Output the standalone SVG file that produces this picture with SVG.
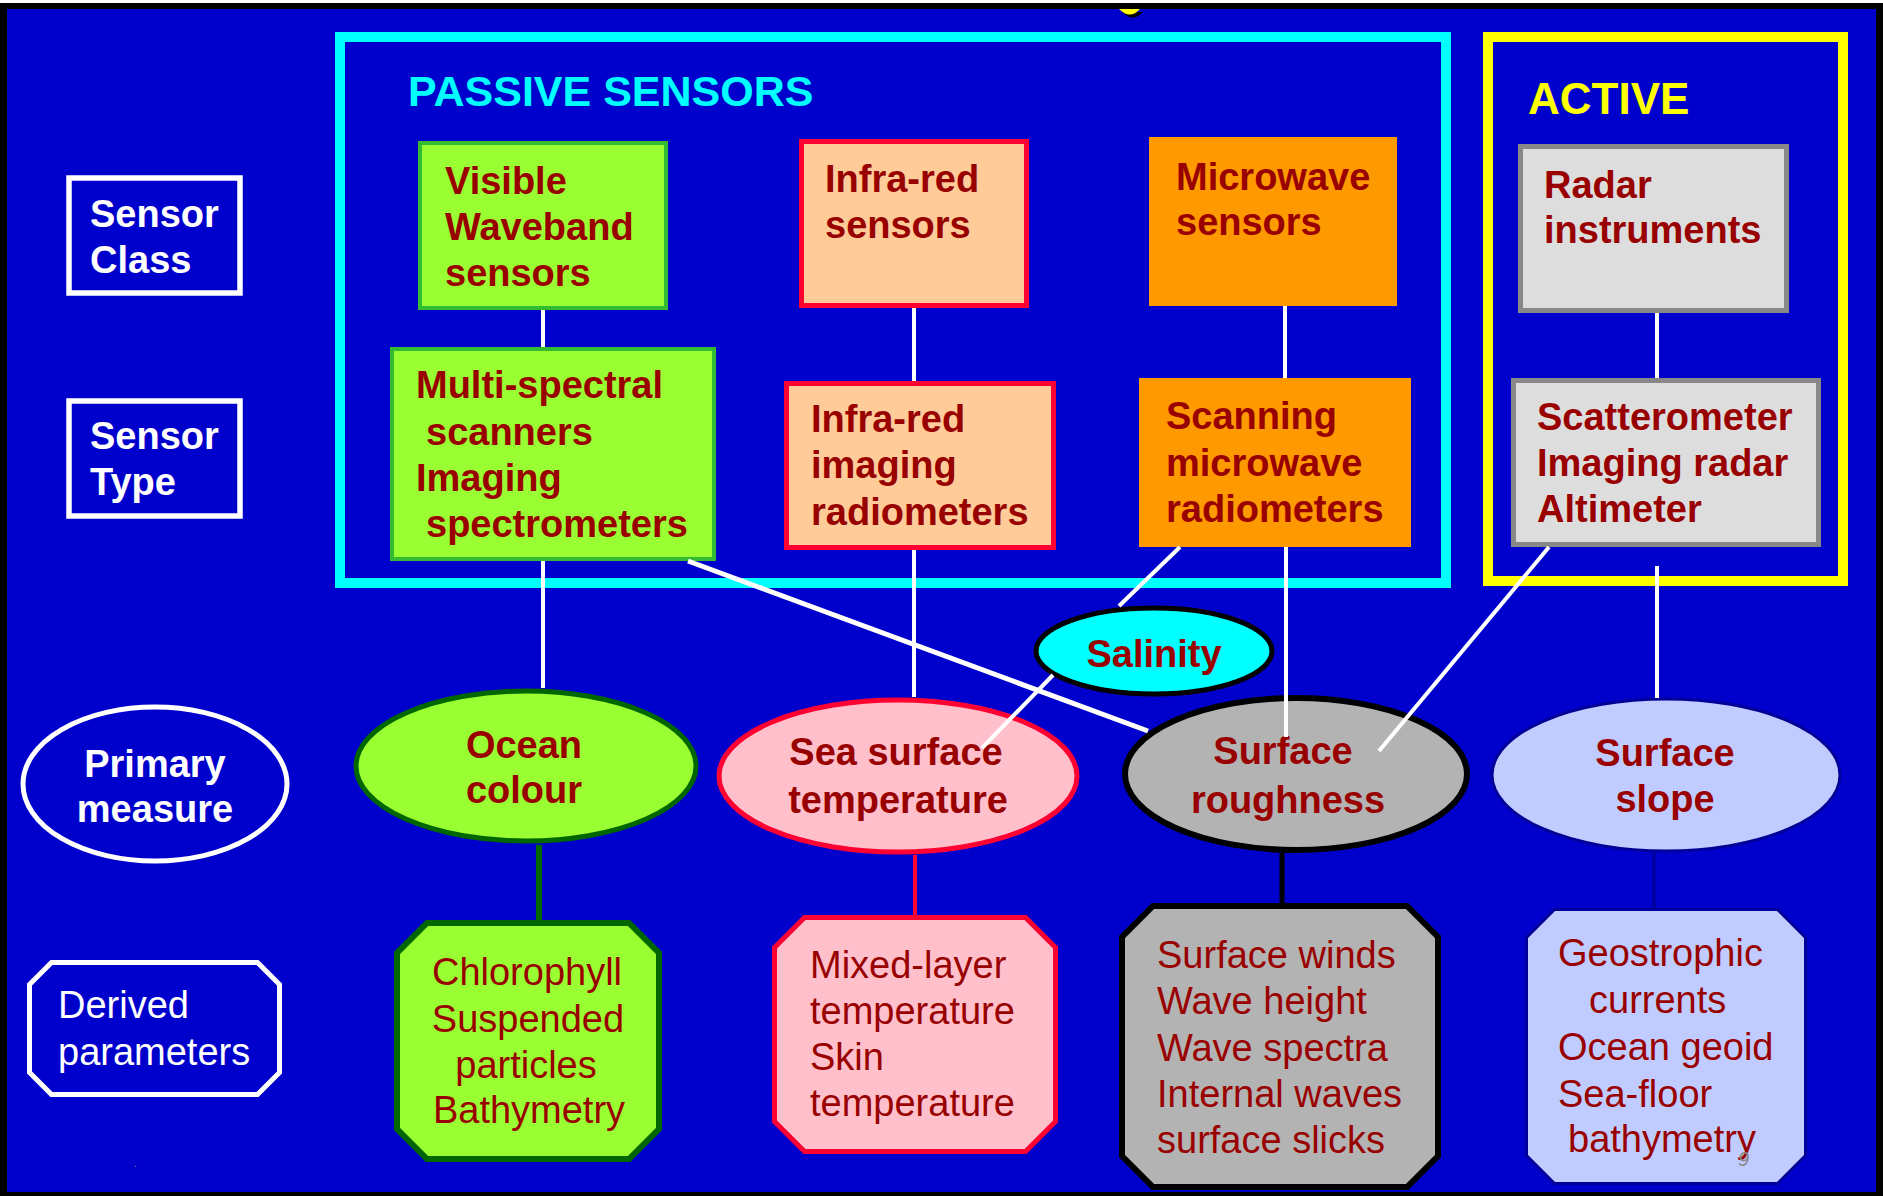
<svg xmlns="http://www.w3.org/2000/svg" width="1883" height="1196" viewBox="0 0 1883 1196">
<defs>
<style>
.b{font-family:"Liberation Sans",Arial,sans-serif;font-weight:bold;font-size:38px;fill:#990000}
.r{font-family:"Liberation Sans",Arial,sans-serif;font-size:38px;fill:#990000}
.wb{font-family:"Liberation Sans",Arial,sans-serif;font-weight:bold;font-size:38px;fill:#ffffff}
.wr{font-family:"Liberation Sans",Arial,sans-serif;font-size:38px;fill:#ffffff}
.c{text-anchor:middle}
.w{stroke:#ffffff;fill:none}
</style>
</defs>
<rect x="0" y="0" width="1883" height="1196" fill="#000000"/>
<rect x="0" y="0" width="1883" height="3" fill="#ffffff"/>
<rect x="7" y="9" width="1869" height="1183" fill="#0000cc"/>
<path d="M1119,9 Q1130,20 1140,9 Z" fill="#000000" transform="translate(3,3)"/>
<path d="M1119,9 Q1130,20 1140,9 Z" fill="#ffff00"/>

<g id="passive-group">
<rect x="340" y="37" width="1106" height="546" fill="none" stroke="#00ffff" stroke-width="10"/>
<text x="408" y="106" font-family="Liberation Sans, Arial, sans-serif" font-weight="bold" font-size="43" fill="#00ffff">PASSIVE SENSORS</text>
</g>
<g id="active-group">
<rect x="1488" y="37" width="355" height="544" fill="none" stroke="#ffff00" stroke-width="10"/>
<text x="1528" y="114" font-family="Liberation Sans, Arial, sans-serif" font-weight="bold" font-size="44" fill="#ffff00">ACTIVE</text>
</g>

<g id="connectors">
<g class="w" stroke-width="4">
<line x1="543" y1="310" x2="543" y2="347"/>
<line x1="914" y1="308" x2="914" y2="381"/>
<line x1="1285" y1="306" x2="1285" y2="378"/>
<line x1="1657" y1="313" x2="1657" y2="378"/>
</g>
</g>

<g id="label-sensor-class">
<rect x="69" y="178" width="171" height="115" fill="none" stroke="#ffffff" stroke-width="5.5"/>
<text class="wb" x="90" y="227">Sensor</text>
<text class="wb" x="90" y="273">Class</text>
</g>
<g id="label-sensor-type">
<rect x="69" y="401" width="171" height="115" fill="none" stroke="#ffffff" stroke-width="5.5"/>
<text class="wb" x="90" y="449">Sensor</text>
<text class="wb" x="90" y="495">Type</text>
</g>
<g id="label-primary">
<ellipse cx="155" cy="784" rx="132" ry="77" fill="none" stroke="#ffffff" stroke-width="5"/>
<text class="wb c" x="155" y="777">Primary</text>
<text class="wb c" x="155" y="822">measure</text>
</g>
<g id="label-derived">
<path d="M51.5,962.5 H257.5 L279.5,984.5 V1072.5 L257.5,1094.5 H51.5 L29.5,1072.5 V984.5 Z" fill="none" stroke="#ffffff" stroke-width="5"/>
<text class="wr" x="58" y="1018">Derived</text>
<text class="wr" x="58" y="1065">parameters</text>
</g>

<g id="visible">
<rect x="420" y="143" width="246" height="165" fill="#99ff33" stroke="#33bb33" stroke-width="4"/>
<text class="b" x="445" y="194">Visible</text>
<text class="b" x="445" y="240">Waveband</text>
<text class="b" x="445" y="286">sensors</text>
</g>
<g id="infrared">
<rect x="801.5" y="141.5" width="225" height="164" fill="#ffcc99" stroke="#ff0033" stroke-width="5"/>
<text class="b" x="825" y="192">Infra-red</text>
<text class="b" x="825" y="238">sensors</text>
</g>
<g id="microwave">
<rect x="1149" y="137" width="248" height="169" fill="#ff9900"/>
<text class="b" x="1176" y="190">Microwave</text>
<text class="b" x="1176" y="235">sensors</text>
</g>
<g id="radar">
<rect x="1520.5" y="146.5" width="266" height="164" fill="#dddddd" stroke="#888888" stroke-width="5"/>
<text class="b" x="1544" y="198">Radar</text>
<text class="b" x="1544" y="243">instruments</text>
</g>

<g id="multispectral">
<rect x="392" y="349" width="322" height="210" fill="#99ff33" stroke="#33bb33" stroke-width="4"/>
<text class="b" x="416" y="398">Multi-spectral</text>
<text class="b" x="426" y="445">scanners</text>
<text class="b" x="416" y="491">Imaging</text>
<text class="b" x="426" y="537">spectrometers</text>
</g>
<g id="ir-radiometers">
<rect x="786.5" y="383.5" width="267" height="164" fill="#ffcc99" stroke="#ff0033" stroke-width="5"/>
<text class="b" x="811" y="432">Infra-red</text>
<text class="b" x="811" y="478">imaging</text>
<text class="b" x="811" y="525">radiometers</text>
</g>
<g id="mw-radiometers">
<rect x="1139" y="378" width="272" height="169" fill="#ff9900"/>
<text class="b" x="1166" y="429">Scanning</text>
<text class="b" x="1166" y="476">microwave</text>
<text class="b" x="1166" y="522">radiometers</text>
</g>
<g id="radar-types">
<rect x="1513.5" y="380.5" width="305" height="164" fill="#dddddd" stroke="#888888" stroke-width="5"/>
<text class="b" x="1537" y="430">Scatterometer</text>
<text class="b" x="1537" y="476">Imaging radar</text>
<text class="b" x="1537" y="522">Altimeter</text>
</g>

<g id="salinity">
<ellipse cx="1154" cy="651" rx="118" ry="43" fill="#00ffff" stroke="#000000" stroke-width="5"/>
<text class="b c" x="1154" y="667">Salinity</text>
</g>
<g id="ocean-colour">
<ellipse cx="526" cy="766" rx="170" ry="75" fill="#99ff33" stroke="#006600" stroke-width="5"/>
<text class="b c" x="524" y="758">Ocean</text>
<text class="b c" x="524" y="803">colour</text>
</g>
<g id="sst">
<ellipse cx="898" cy="776" rx="179" ry="76" fill="#ffc0cb" stroke="#ff0033" stroke-width="5"/>
<text class="b c" x="896" y="765">Sea surface</text>
<text class="b c" x="898" y="813">temperature</text>
</g>
<g id="roughness">
<ellipse cx="1296" cy="774" rx="171" ry="76" fill="#b3b3b3" stroke="#000000" stroke-width="6"/>
<text class="b c" x="1283" y="764">Surface</text>
<text class="b c" x="1288" y="813">roughness</text>
</g>
<g id="slope">
<ellipse cx="1666" cy="775" rx="174" ry="76" fill="#c0ccff" stroke="#000099" stroke-width="3"/>
<text class="b c" x="1665" y="766">Surface</text>
<text class="b c" x="1665" y="812">slope</text>
</g>

<g id="connectors-lower">
<g class="w" stroke-width="4">
<line x1="543" y1="561" x2="543" y2="688"/>
<line x1="914" y1="550" x2="914" y2="697"/>
<line x1="1286" y1="547" x2="1286" y2="737"/>
<line x1="1657" y1="566" x2="1657" y2="698"/>
<line x1="688" y1="561" x2="1148" y2="731" stroke-width="5"/>
<line x1="1180" y1="547" x2="1119" y2="606"/>
<line x1="1053" y1="675" x2="982" y2="748"/>
<line x1="1549" y1="547" x2="1379" y2="751"/>
</g>
<line x1="539" y1="845" x2="539" y2="921" stroke="#006600" stroke-width="6"/>
<line x1="915" y1="855" x2="915" y2="917" stroke="#ff0033" stroke-width="4"/>
<line x1="1282" y1="853" x2="1282" y2="906" stroke="#000000" stroke-width="5"/>
<line x1="1654" y1="852" x2="1654" y2="909" stroke="#000099" stroke-width="3"/>
</g>

<g id="chlorophyll">
<path d="M427,923 H629 L659,953 V1129 L629,1159 H427 L397,1129 V953 Z" fill="#99ff33" stroke="#006600" stroke-width="6"/>
<text class="r c" x="527" y="985">Chlorophyll</text>
<text class="r c" x="528" y="1032">Suspended</text>
<text class="r c" x="526" y="1078">particles</text>
<text class="r c" x="529" y="1123">Bathymetry</text>
</g>
<g id="sst-derived">
<path d="M804.5,917.5 H1025.5 L1055.5,947.5 V1121.5 L1025.5,1151.5 H804.5 L774.5,1121.5 V947.5 Z" fill="#ffc0cb" stroke="#ff0033" stroke-width="5"/>
<text class="r" x="810" y="978">Mixed-layer</text>
<text class="r" x="810" y="1024">temperature</text>
<text class="r" x="810" y="1070">Skin</text>
<text class="r" x="810" y="1116">temperature</text>
</g>
<g id="roughness-derived">
<path d="M1153,906 H1407 L1438,937 V1156 L1407,1187 H1153 L1122,1156 V937 Z" fill="#b3b3b3" stroke="#000000" stroke-width="6"/>
<text class="r" x="1157" y="968">Surface winds</text>
<text class="r" x="1157" y="1014">Wave height</text>
<text class="r" x="1157" y="1061">Wave spectra</text>
<text class="r" x="1157" y="1107">Internal waves</text>
<text class="r" x="1157" y="1153">surface slicks</text>
</g>
<g id="slope-derived">
<path d="M1554.5,909.5 H1777.5 L1805.5,937.5 V1155.5 L1777.5,1183.5 H1554.5 L1526.5,1155.5 V937.5 Z" fill="#c0ccff" stroke="#000099" stroke-width="3"/>
<text class="r" x="1558" y="966">Geostrophic</text>
<text class="r" x="1589" y="1013">currents</text>
<text class="r" x="1558" y="1060">Ocean geoid</text>
<text class="r" x="1558" y="1107">Sea-floor</text>
<text class="r" x="1568" y="1152">bathymetry</text>
</g>
<text x="1738" y="1166" font-family="Liberation Sans, Arial, sans-serif" font-style="italic" font-size="20" fill="#888888">9</text>
<text x="134" y="1167" font-family="Liberation Sans, Arial, sans-serif" font-size="10" fill="#888888">.</text>
</svg>
